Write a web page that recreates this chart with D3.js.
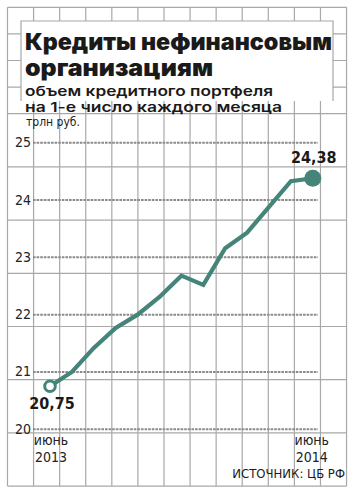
<!DOCTYPE html>
<html>
<head>
<meta charset="utf-8">
<script src="https://d3js.org/d3.v7.min.js"></script>
<style>
  body { margin: 0; background: #fff; }
  .cond { font-family: "Liberation Sans Narrow", "DejaVu Sans Condensed", "Roboto", sans-serif; }
</style>
</head>
<body>
<svg width="355" height="497"></svg>
<script>
// data: loan portfolio, trn rub, 1st day of month, June 2013 .. June 2014
const months = ["06.2013","07.2013","08.2013","09.2013","10.2013","11.2013","12.2013",
                "01.2014","02.2014","03.2014","04.2014","05.2014","06.2014"]
const values = [20.75, 21.0, 21.42, 21.77, 22.0, 22.31, 22.68, 22.52, 23.16, 23.43, 23.88, 24.33, 24.38]
const yTicks = [20, 21, 22, 23, 24, 25]
const startLabel = ["июнь", "2013"]
const endLabel = ["июнь", "2014"]
const title = ["Кредиты нефинансовым", "организациям"]
const subtitle = ["объем кредитного портфеля", "на 1-е число каждого месяца"]
const unit = "трлн руб."
const source = "ИСТОЧНИК: ЦБ РФ"

const svg = d3.select("svg")
const teal = "#458478"
const gridColor = "#a8a8a8"

// background grid
var gx = d3.range(14).map(i => 7.5 + i*26.08)
var gy = d3.range(5).map(i => 7.3 + i*26.6).concat(d3.range(1, 8).map(i => 113.7 + i*53.2))
svg.append("g").selectAll("line").data(gx).enter().append("line")
    .attr("x1", d => d).attr("x2", d => d)
    .attr("y1", 7.3).attr("y2", 486.1)
    .attr("stroke", gridColor).attr("stroke-width", 1.2)
svg.append("g").selectAll("line").data(gy).enter().append("line")
    .attr("x1", 7.5).attr("x2", 346.6)
    .attr("y1", d => d).attr("y2", d => d)
    .attr("stroke", gridColor).attr("stroke-width", 1.2)

// title box
svg.append("rect").attr("x", 21).attr("y", 21).attr("width", 312).attr("height", 80).attr("fill", "#fff")
svg.append("path").attr("d", "M21,101V21H333V101").attr("fill", "none")
    .attr("stroke", gridColor).attr("stroke-width", 1.2)

const t = svg.append("g").attr("fill", "#1a1a1a")
t.append("text").attr("x", 25).attr("y", 50).text(title[0])
    .style("font-family", "Inter, 'Open Sans', sans-serif").style("font-weight", 900).style("font-size", "23px")
    .attr("textLength", 307).attr("lengthAdjust", "spacingAndGlyphs")
t.append("text").attr("x", 25).attr("y", 76).text(title[1])
    .style("font-family", "Inter, 'Open Sans', sans-serif").style("font-weight", 900).style("font-size", "23px")
    .attr("textLength", 188).attr("lengthAdjust", "spacingAndGlyphs")
t.append("text").attr("x", 25).attr("y", 95.5).text(subtitle[0])
    .style("font-family", "Inter, 'Open Sans', sans-serif").style("font-weight", 600).style("font-size", "13.5px")
    .attr("textLength", 248).attr("lengthAdjust", "spacingAndGlyphs")
t.append("text").attr("x", 25).attr("y", 111.5).text(subtitle[1])
    .style("font-family", "Inter, 'Open Sans', sans-serif").style("font-weight", 600).style("font-size", "13.5px")
    .attr("textLength", 257).attr("lengthAdjust", "spacingAndGlyphs")
t.append("text").attr("class", "cond").attr("x", 26).attr("y", 126).text(unit)
    .style("font-size", "12px")

// scales
const x = d3.scaleLinear().domain([0, months.length - 1]).range([50, 312.8])
const y = d3.scaleLinear().domain([20, 25]).range([429.3, 142.7])

// dotted value lines and labels
svg.append("g").selectAll("line").data(yTicks).enter().append("line")
    .attr("x1", 33).attr("x2", 318)
    .attr("y1", d => y(d)).attr("y2", d => y(d))
    .attr("stroke", "#8a8a8a").attr("stroke-width", 2).attr("stroke-dasharray", "2.6,1")
svg.append("g").selectAll("text").data(yTicks).enter().append("text")
    .attr("class", "cond")
    .attr("x", 31).attr("y", d => y(d) + 4.5)
    .attr("text-anchor", "end").style("font-size", "14px").attr("fill", "#222")
    .text(d => d)

// line
const line = d3.line().x((d, i) => x(i)).y(d => y(d))
svg.append("path").datum(values)
    .attr("d", line).attr("fill", "none")
    .attr("stroke", teal).attr("stroke-width", 4.2).attr("stroke-linejoin", "miter")

const last = values.length - 1
svg.append("circle").attr("cx", x(0)).attr("cy", y(values[0])).attr("r", 5.3)
    .attr("fill", "#fff").attr("stroke", teal).attr("stroke-width", 3)
svg.append("circle").attr("cx", x(last)).attr("cy", y(values[last])).attr("r", 8.5)
    .attr("fill", teal)

const fmt = v => d3.format(".2f")(v).replace(".", ",")
svg.append("text").attr("class", "cond").attr("x", x(0) + 2).attr("y", y(values[0]) + 23)
    .attr("text-anchor", "middle").style("font-size", "16px").style("font-weight", "bold").attr("fill", "#1a1a1a")
    .text(fmt(values[0]))
svg.append("text").attr("class", "cond").attr("x", x(last) + 1).attr("y", y(values[last]) - 15.5)
    .attr("text-anchor", "middle").style("font-size", "16px").style("font-weight", "bold").attr("fill", "#1a1a1a")
    .text(fmt(values[last]))

// x labels
function xLabel(lines, cx){
    const g = svg.append("g").attr("class", "cond").attr("fill", "#222").attr("text-anchor", "middle")
    g.append("text").attr("x", cx).attr("y", 445).style("font-size", "14px").text(lines[0])
    g.append("text").attr("x", cx).attr("y", 462).style("font-size", "14px").text(lines[1])
}
xLabel(startLabel, x(0) + 1)
xLabel(endLabel, x(last) - 1)

svg.append("text").attr("class", "cond").attr("x", 345).attr("y", 478)
    .attr("text-anchor", "end").style("font-size", "13px").attr("fill", "#1a1a1a")
    .text(source)
</script>
</body>
</html>
